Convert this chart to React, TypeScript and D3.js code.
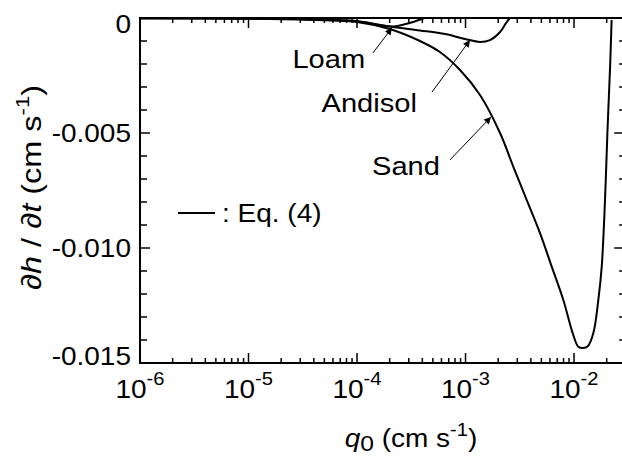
import * as d3 from 'd3';
import React, { useEffect, useRef } from 'react';

// q0 (cm/s) and dh/dt (cm/s)
const sandQ = [1e-6, 1e-5, 3.16e-5, 1e-4, 2.0e-4, 3.8e-4, 5.8e-4, 8.9e-4, 1.36e-3, 2.08e-3, 2.76e-3, 3.66e-3, 4.86e-3, 6.23e-3, 7.97e-3, 9.72e-3, 1.095e-2, 1.21e-2, 1.346e-2, 1.507e-2, 1.675e-2, 1.8e-2, 1.93e-2, 2.03e-2, 2.15e-2, 2.22e-2];
const sandV = [-0.00001, -0.00003, -0.00007, -0.00017, -0.00048, -0.001, -0.00148, -0.00226, -0.00335, -0.005, -0.00647, -0.00791, -0.00935, -0.01081, -0.01226, -0.0137, -0.01429, -0.01435, -0.01426, -0.0137, -0.01226, -0.01081, -0.00791, -0.005, -0.00212, -0.00009];

const andisolQ = [1e-6, 1e-5, 3.16e-5, 1e-4, 2.0e-4, 3.8e-4, 6.5e-4, 9.9e-4, 1.36e-3, 1.68e-3, 2.08e-3, 2.36e-3, 2.57e-3];
const andisolV = [-0.00001, -0.00002, -0.00005, -0.00015, -0.00037, -0.00054, -0.0007, -0.00091, -0.00104, -0.00096, -0.00061, -0.00022, 0];

const loamQ = [1e-6, 1e-5, 3.16e-5, 1e-4, 1.6e-4, 2.1e-4, 2.7e-4, 3.4e-4, 4.2e-4];
const loamV = [-0.00001, -0.00002, -0.00005, -0.00013, -0.0003, -0.00037, -0.00028, -0.00015, 0];

const xMajor = [1e-6, 1e-5, 1e-4, 1e-3, 1e-2];
const xMajorExp = ['-6', '-5', '-4', '-3', '-2'];
const yMajor = [0, -0.005, -0.01, -0.015];
const yMajorLabels = ['0', '-0.005', '-0.010', '-0.015'];

// labels + arrows: [label, textEndQ, textV, tailQ, tailV, tipQ, tipV]
const notes: any[] = [
    ['Loam', 1.19e-4, -0.00217, 1.4e-4, -0.00152, 2.1e-4, -0.00043],
    ['Andisol', 3.57e-4, -0.00409, 4.91e-4, -0.00322, 1.1e-3, -0.00096],
    ['Sand', 5.82e-4, -0.00683, 7.19e-4, -0.00617, 1.72e-3, -0.0043],
];

const FONT = '"Liberation Sans", Arial, sans-serif';
const SX = 1.12; // glyphs in the figure are a bit wide

export default () => {
    const ref = useRef<any>();

    useEffect(() => {
        const svg = d3.select<any, any>(ref.current);
        svg.selectAll('*').remove();

        const left = 140, top = 18, bottom = 363;
        const right = 624.2;
        const xScale = d3.scaleLog().domain([1e-6, 0.029]).range([left, right]);
        const yScale = d3.scaleLinear().domain([-0.015, 0]).range([bottom, top]);

        // text placed at (x, y) and stretched horizontally
        const addText = (x: number, y: number, anchor: string, size: number) =>
            svg.append('g')
                .attr('transform', `translate(${x}, ${y}) scale(${SX}, 1)`)
                .append('text')
                .attr('font-family', FONT)
                .attr('font-size', size)
                .attr('text-anchor', anchor);

        svg.append('defs').append('marker')
            .attr('id', 'head')
            .attr('viewBox', '0 0 10 10')
            .attr('refX', 10).attr('refY', 5)
            .attr('markerWidth', 9).attr('markerHeight', 7)
            .attr('markerUnits', 'userSpaceOnUse')
            .attr('orient', 'auto')
            .append('path').attr('d', 'M0,0 L10,5 L0,10 z').attr('fill', '#000');

        const line = d3.line<any>()
            .x((d) => xScale(d[0]))
            .y((d) => yScale(d[1]))
            .curve(d3.curveCatmullRom.alpha(0.5));

        const series = [
            d3.zip(sandQ, sandV),
            d3.zip(andisolQ, andisolV),
            d3.zip(loamQ, loamV),
        ];
        svg.append('g').selectAll('path').data(series).join('path')
            .attr('d', (d: any) => line(d))
            .attr('fill', 'none')
            .attr('stroke', '#000')
            .attr('stroke-width', 2)
            .attr('stroke-linejoin', 'round');

        // ticks
        const minorX: number[] = [];
        for (let e = -6; e <= -2; e++) {
            for (let m = 2; m <= 9; m++) {
                const v = m * Math.pow(10, e);
                if (v < 0.029) minorX.push(v);
            }
        }
        const minorY = d3.range(1, 15).map((i) => -i * 0.001).filter((v) => Math.round(Math.abs(v * 1000)) % 5 !== 0);

        const ticks = svg.append('g').attr('stroke', '#000').attr('stroke-width', 1.5);
        xMajor.forEach((v) => {
            ticks.append('line').attr('x1', xScale(v)).attr('x2', xScale(v)).attr('y1', bottom).attr('y2', bottom - 10);
            ticks.append('line').attr('x1', xScale(v)).attr('x2', xScale(v)).attr('y1', top).attr('y2', top + 10);
        });
        minorX.forEach((v) => {
            ticks.append('line').attr('x1', xScale(v)).attr('x2', xScale(v)).attr('y1', bottom).attr('y2', bottom - 5);
            ticks.append('line').attr('x1', xScale(v)).attr('x2', xScale(v)).attr('y1', top).attr('y2', top + 5);
        });
        yMajor.forEach((v) => {
            ticks.append('line').attr('x1', left).attr('x2', left + 10).attr('y1', yScale(v)).attr('y2', yScale(v));
            ticks.append('line').attr('x1', right).attr('x2', right - 10).attr('y1', yScale(v)).attr('y2', yScale(v));
        });
        minorY.forEach((v) => {
            ticks.append('line').attr('x1', left).attr('x2', left + 7).attr('y1', yScale(v)).attr('y2', yScale(v));
            ticks.append('line').attr('x1', right).attr('x2', right - 5).attr('y1', yScale(v)).attr('y2', yScale(v));
        });

        svg.append('rect')
            .attr('x', left).attr('y', top)
            .attr('width', right - left).attr('height', bottom - top)
            .attr('fill', 'none').attr('stroke', '#000').attr('stroke-width', 2);

        // tick labels
        xMajor.forEach((v, i) => {
            const t = addText(xScale(v), 398, 'middle', 25);
            t.append('tspan').text('10');
            t.append('tspan').attr('dy', -13).attr('font-size', 18).text(xMajorExp[i]);
        });
        yMajor.forEach((v, i) => {
            const shift = i === 0 ? 6 : i === yMajor.length - 1 ? -7 : 0;
            addText(131, yScale(v) + shift + 9, 'end', 25).text(yMajorLabels[i]);
        });

        // axis titles
        const yt = svg.append('g')
            .attr('transform', `translate(41, ${(top + bottom) / 2 - 3}) rotate(-90) scale(1.16, 1)`)
            .append('text')
            .attr('font-family', FONT).attr('font-size', 28).attr('text-anchor', 'middle');
        yt.append('tspan').text('\u2202');
        yt.append('tspan').attr('font-style', 'italic').text('h');
        yt.append('tspan').text(' / \u2202');
        yt.append('tspan').attr('font-style', 'italic').text('t');
        yt.append('tspan').text(' (cm s');
        yt.append('tspan').attr('dy', -12).attr('font-size', 19).text('-1');
        yt.append('tspan').attr('dy', 12).text(')');

        const xt = addText(411, 447, 'middle', 25);
        xt.append('tspan').attr('font-style', 'italic').text('q');
        xt.append('tspan').attr('dy', 4).attr('font-size', 22).text('0');
        xt.append('tspan').attr('dy', -4).text(' (cm s');
        xt.append('tspan').attr('dy', -11).attr('font-size', 18).text('-1');
        xt.append('tspan').attr('dy', 11).text(')');

        // annotations
        notes.forEach((n) => {
            addText(xScale(n[1]), yScale(n[2]), 'end', 26).text(n[0]);
            svg.append('line')
                .attr('x1', xScale(n[3])).attr('y1', yScale(n[4]))
                .attr('x2', xScale(n[5])).attr('y2', yScale(n[6]))
                .attr('stroke', '#000').attr('stroke-width', 1)
                .attr('marker-end', 'url(#head)');
        });

        // legend
        svg.append('line').attr('x1', 178).attr('x2', 215).attr('y1', 213).attr('y2', 213)
            .attr('stroke', '#000').attr('stroke-width', 2);
        addText(222, 222, 'start', 25).text(': Eq. (4)');
    });

    return (
        <svg ref={ref} width={622} height={458}
            style={{ position: 'absolute', left: 0, top: 0, background: '#fff' }}></svg>
    );
};
